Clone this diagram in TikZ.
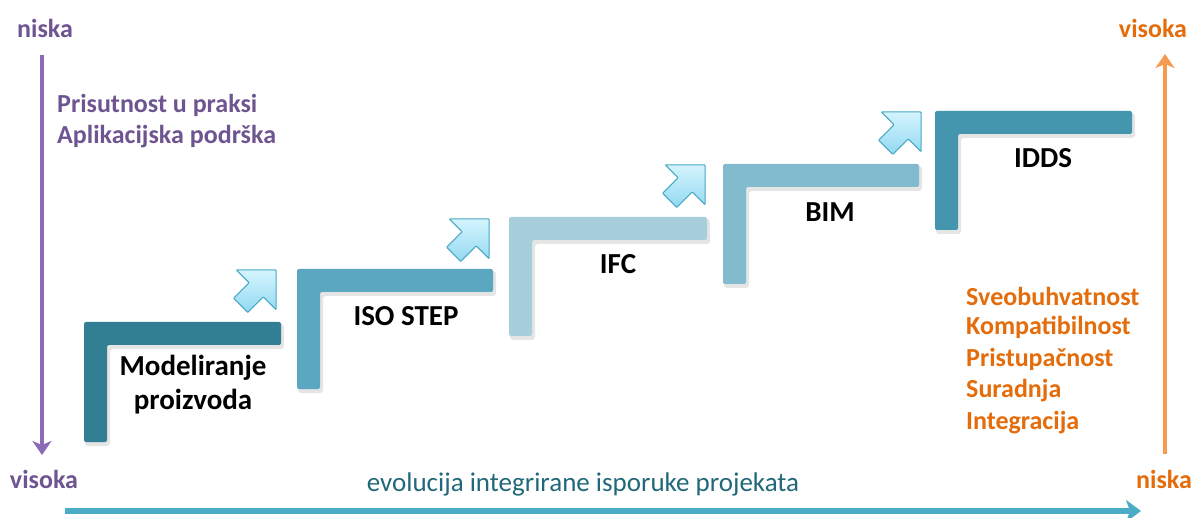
\documentclass[tikz,border=0pt]{standalone}
\usepackage{fontspec}
\setmainfont{Carlito}
\usetikzlibrary{arrows.meta}
\definecolor{purpT}{HTML}{6E5491}
\definecolor{purpL}{HTML}{8A6BB5}
\definecolor{oranT}{HTML}{E46C0A}
\definecolor{oranL}{HTML}{F59A4E}
\definecolor{tealT}{HTML}{21697A}
\definecolor{tealL}{HTML}{4BACC6}
\definecolor{stepA}{HTML}{327F93}
\definecolor{stepB}{HTML}{5BA7C0}
\definecolor{stepC}{HTML}{A7CFDB}
\definecolor{stepD}{HTML}{82BBCD}
\definecolor{stepE}{HTML}{4396AD}
\definecolor{arrEdge}{HTML}{46A8C4}
\definecolor{arrTop}{HTML}{D4F4FD}
\definecolor{arrBot}{HTML}{93D9F2}
\newcommand\stairL[5]{%
  \fill[black,opacity=0.10,rounded corners=3pt] (#2+1,#3+2) -- (#4+3,#3+2) -- (#4+3,#3+27) -- (#2+26,#3+27) -- (#2+26,#5+4) -- (#2+1,#5+4) -- cycle;
  \fill[#1,rounded corners=2pt] (#2,#3) -- (#4,#3) -- (#4,#3+23) -- (#2+23,#3+23) -- (#2+23,#5) -- (#2,#5) -- cycle;}
\tikzset{
  steplabel/.style={font=\bfseries\fontsize{29}{34}\selectfont, text=black, inner sep=0pt, align=center},
  sidetext/.style={font=\bfseries\fontsize{26}{31}\selectfont, inner sep=0pt, anchor=west},
  endtext/.style={font=\bfseries\fontsize{26}{31}\selectfont, inner sep=0pt},
  blockarrow/.pic={\draw[arrEdge, line width=1pt, top color=arrTop, bottom color=arrBot, rounded corners=0.6pt]
     (0,0) -- (-28,28) -- (-28,10) -- (-50,10) -- (-50,-10) -- (-28,-10) -- (-28,-28) -- cycle;},
  axisline/.style={line width=4.2pt, -{Stealth[length=14pt,width=19pt,inset=4pt]}},
}
\begin{document}
\begin{tikzpicture}[x=1pt,y=-1pt]
\useasboundingbox (0,0) rectangle (1196,518);
\fill[white] (0,0) rectangle (1196,518);

% steps
\stairL{stepA}{84}{322}{281}{442}
\stairL{stepB}{297}{269}{493}{389}
\stairL{stepC}{509}{217}{707}{336}
\stairL{stepD}{723}{164}{919}{284}
\stairL{stepE}{935}{111}{1132}{230}

\node[steplabel] (l1) at (193,385) {Modeliranje\\proizvoda};
\node[steplabel] (l2) at (406,316) {ISO STEP};
\node[steplabel] (l3) at (618,264) {IFC};
\node[steplabel] (l4) at (830,212) {BIM};
\node[steplabel] (l5) at (1043,158) {IDDS};

% block arrows
\pic[rotate=45] (a1) at (276,270) {blockarrow};
\pic[rotate=45] (a2) at (489,219) {blockarrow};
\pic[rotate=45] (a3) at (705,165) {blockarrow};
\pic[rotate=45] (a4) at (921,112) {blockarrow};

% left purple axis
\node[endtext, text=purpT] (ln) at (45,28) {niska};
\node[endtext, text=purpT] (lv) at (44,479) {visoka};
\coordinate (ptop) at (42,55);
\coordinate (pbot) at (42,455);
\draw[axisline, purpL] (ptop) -- (pbot);
\node[sidetext, text=purpT] (p1) at (57,105) {Prisutnost u praksi};
\node[sidetext, text=purpT] (p2) at (57,137) {Aplikacijska podrška};

% right orange axis
\node[endtext, text=oranT] (rv) at (1153,28) {visoka};
\node[endtext, text=oranT] (rn) at (1164,479) {niska};
\coordinate (obot) at (1165,454);
\coordinate (otop) at (1165,54);
\draw[axisline, oranL] (obot) -- (otop);
\node[sidetext, text=oranT] (o1) at (966,296) {Sveobuhvatnost};
\node[sidetext, text=oranT] (o2) at (966,327) {Kompatibilnost};
\node[sidetext, text=oranT] (o3) at (966,359) {Pristupačnost};
\node[sidetext, text=oranT] (o4) at (966,391) {Suradnja};
\node[sidetext, text=oranT] (o5) at (966,423) {Integracija};

% bottom axis
\node[inner sep=0pt, text=tealT, font=\fontsize{27}{32}\selectfont] (bt) at (583,484) {evolucija integrirane isporuke projekata};
\coordinate (bl) at (65,511);
\coordinate (br) at (1141,511);
\draw[line width=5.5pt, tealL, -{Stealth[length=15pt,width=22pt,inset=4pt]}] (bl) -- (br);
\end{tikzpicture}
\end{document}
